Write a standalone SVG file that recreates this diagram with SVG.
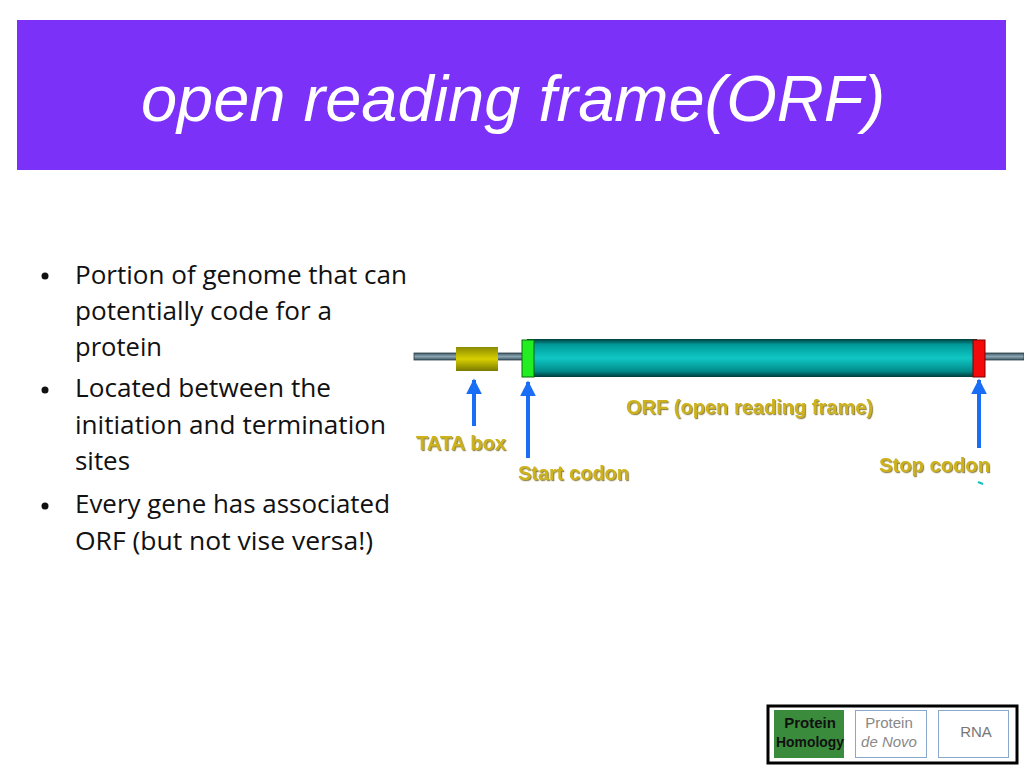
<svg xmlns="http://www.w3.org/2000/svg" width="1024" height="768" viewBox="0 0 1024 768">
<defs>
<linearGradient id="teal" x1="0" y1="0" x2="0" y2="1">
<stop offset="0" stop-color="#003f3f"/><stop offset="0.15" stop-color="#009a9a"/><stop offset="0.5" stop-color="#10c8c4"/><stop offset="0.85" stop-color="#008a8a"/><stop offset="1" stop-color="#003a3a"/>
</linearGradient>
<linearGradient id="olive" x1="0" y1="0" x2="0" y2="1">
<stop offset="0" stop-color="#8a8a00"/><stop offset="0.5" stop-color="#d8d000"/><stop offset="1" stop-color="#7a7a00"/>
</linearGradient>
<linearGradient id="wire" x1="0" y1="0" x2="0" y2="1">
<stop offset="0" stop-color="#3e5866"/><stop offset="0.5" stop-color="#8aa4b0"/><stop offset="1" stop-color="#3e5866"/>
</linearGradient>
<marker id="ah" viewBox="0 0 10 10" refX="9" refY="5" markerWidth="4" markerHeight="4" orient="auto">
<path d="M0,0 L10,5 L0,10 z" fill="#1a6ef5"/>
</marker>
<filter id="sh" x="-5%" y="-20%" width="110%" height="140%">
<feDropShadow dx="1.2" dy="1.2" stdDeviation="0.6" flood-color="#7a6a20" flood-opacity="0.8"/>
</filter>
</defs>
<style>
.bul{font-family:"Open Sans","Noto Sans",sans-serif;font-size:25px;fill:#111}
.lbl{font-family:"Liberation Sans",Arial,sans-serif;font-size:20px;font-weight:bold;fill:#cdb21a;filter:url(#sh)}
.arr{stroke:#1a6ef5;stroke-width:4;fill:none;marker-end:url(#ah)}
.bx{font-family:"Liberation Sans",Arial,sans-serif;font-size:15px;text-anchor:middle}
</style>
<rect width="1024" height="768" fill="#fff"/>
<g id="title">
<rect x="17" y="20" width="989" height="150" fill="#7b31f8"/>
<text x="513" y="121" text-anchor="middle" font-family="Liberation Sans,Arial,sans-serif" font-style="italic" font-size="65" fill="#fff">open reading frame(ORF)</text>
</g>
<g id="bullets">
<circle cx="45" cy="276" r="3.5" fill="#111"/>
<circle cx="45" cy="390" r="3.5" fill="#111"/>
<circle cx="45" cy="506" r="3.5" fill="#111"/>
<text class="bul" x="75" y="284" textLength="332" lengthAdjust="spacingAndGlyphs">Portion of genome that can</text>
<text class="bul" x="75" y="320" textLength="257" lengthAdjust="spacingAndGlyphs">potentially code for a</text>
<text class="bul" x="75" y="356" textLength="87" lengthAdjust="spacingAndGlyphs">protein</text>
<text class="bul" x="75" y="397" textLength="256" lengthAdjust="spacingAndGlyphs">Located between the</text>
<text class="bul" x="75" y="434" textLength="311" lengthAdjust="spacingAndGlyphs">initiation and termination</text>
<text class="bul" x="75" y="470" textLength="55" lengthAdjust="spacingAndGlyphs">sites</text>
<text class="bul" x="75" y="513" textLength="315" lengthAdjust="spacingAndGlyphs">Every gene has associated</text>
<text class="bul" x="75" y="550" textLength="298" lengthAdjust="spacingAndGlyphs">ORF (but not vise versa!)</text>
</g>
<g id="dna">
<rect x="414" y="353" width="610" height="7" fill="url(#wire)" stroke="#2e3e48" stroke-width="0.8"/>
</g>
<g id="tata-box">
<rect x="456" y="347" width="42" height="24" fill="url(#olive)"/>
</g>
<g id="orf">
<rect x="527" y="339" width="450" height="38" fill="url(#teal)"/>
</g>
<g id="start-codon">
<rect x="522" y="340" width="12" height="37" fill="#22ee22" stroke="#0a6a0a" stroke-width="1"/>
</g>
<g id="stop-codon">
<rect x="973" y="340" width="12" height="37" fill="#f40a0a" stroke="#7a0000" stroke-width="1"/>
</g>
<g id="connectors">
<line class="arr" x1="474" y1="426" x2="474" y2="380"/>
<line class="arr" x1="528" y1="458" x2="528" y2="382"/>
<line class="arr" x1="979" y1="448" x2="979" y2="380"/>
</g>
<g id="labels">
<text class="lbl" x="416" y="450" textLength="90" lengthAdjust="spacingAndGlyphs">TATA box</text>
<text class="lbl" x="518" y="480" textLength="111" lengthAdjust="spacingAndGlyphs">Start codon</text>
<text class="lbl" x="626" y="414" textLength="247" lengthAdjust="spacingAndGlyphs">ORF (open reading frame)</text>
<text class="lbl" x="879" y="472" textLength="111" lengthAdjust="spacingAndGlyphs">Stop codon</text>
<path d="M978,482 L983,484" stroke="#10c0c0" stroke-width="2"/>
</g>
<g id="legend">
<rect x="768" y="706" width="249" height="57" fill="#fff" stroke="#000" stroke-width="3"/>
<rect x="774" y="710" width="70" height="48" fill="#3a8c3c"/>
<text class="bx" x="810" y="728" font-weight="bold" fill="#111">Protein</text>
<text class="bx" x="810" y="747" font-weight="bold" fill="#111" textLength="68" lengthAdjust="spacingAndGlyphs">Homology</text>
<rect x="855.5" y="710.5" width="71" height="47" fill="#fff" stroke="#8aa8cc" stroke-width="1"/>
<text class="bx" x="889" y="728" fill="#888">Protein</text>
<text class="bx" x="889" y="747" fill="#888" font-style="italic" font-size="14">de Novo</text>
<rect x="938.5" y="710.5" width="70" height="47" fill="#fff" stroke="#8aa8cc" stroke-width="1"/>
<text class="bx" x="976" y="737" fill="#777" font-size="16">RNA</text>
</g>
</svg>
